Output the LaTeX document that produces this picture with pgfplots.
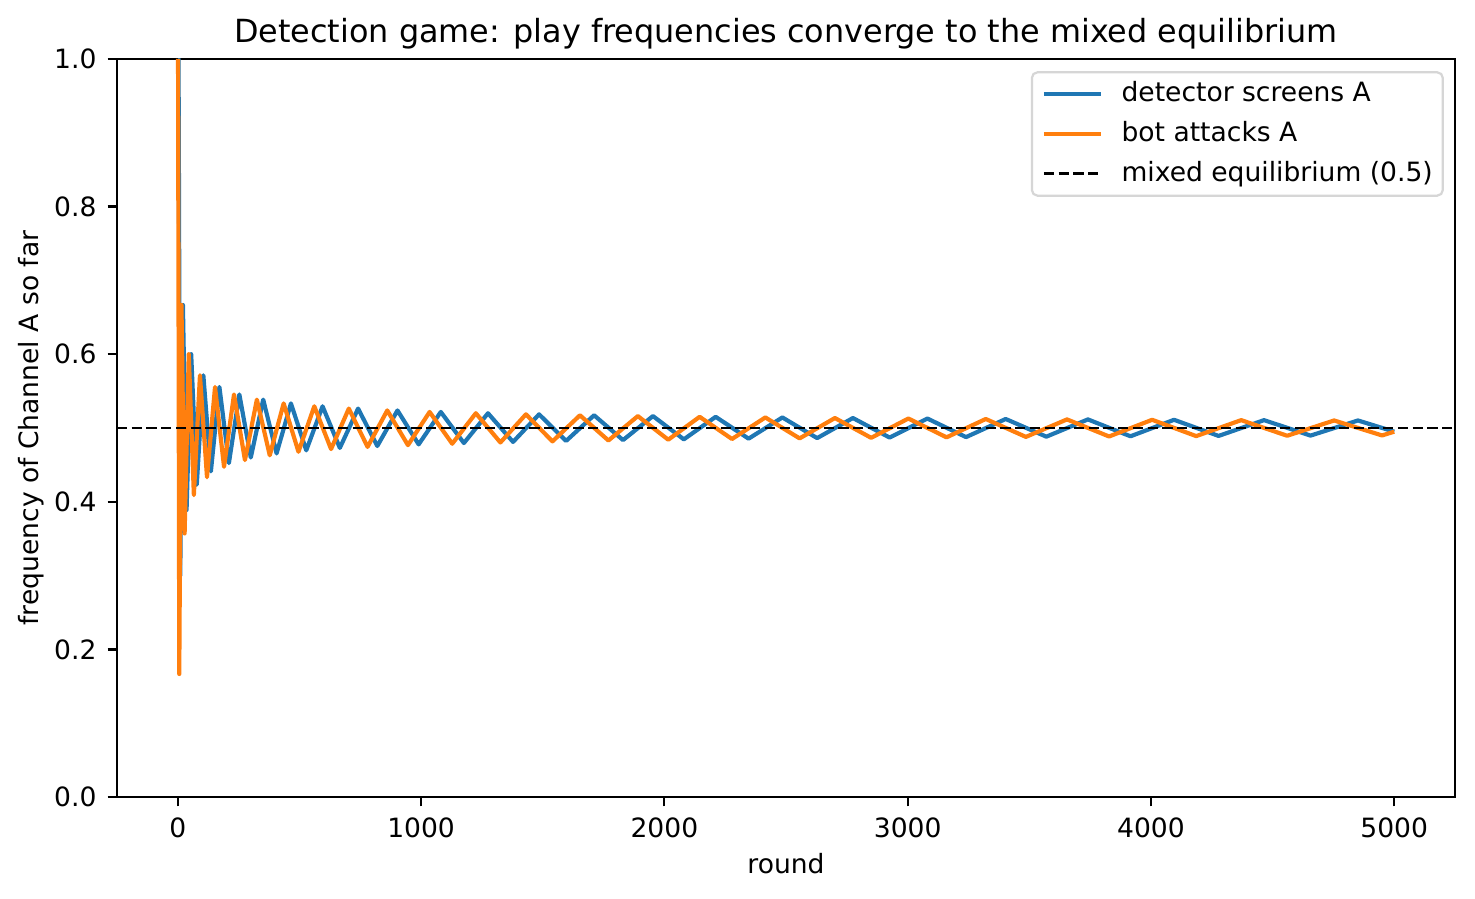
\documentclass[border=0pt]{standalone}
\usepackage{fontspec}
\setmainfont{DejaVu Sans}
\usepackage{pgfplots}
\pgfplotsset{compat=1.18}
\definecolor{mplblue}{HTML}{1F77B4}
\definecolor{mplorange}{HTML}{FF7F0E}
\definecolor{legframe}{HTML}{D6D6D6}
\newcommand{\fs}{\fontsize{9.56}{11.5}\selectfont}
\begin{document}
\begin{tikzpicture}
\begin{axis}[
  scale only axis,
  width=481.68pt, height=265.68pt,
  xmin=-249.95, xmax=5249.95,
  ymin=0, ymax=1,
  axis line style={line width=0.8pt},
  tick align=outside,
  xtick pos=bottom, ytick pos=left,
  major tick length=3.4pt,
  tick style={line width=0.8pt, black},
  xtick={0,1000,2000,3000,4000,5000},
  ytick={0,0.2,0.4,0.6,0.8,1.0},
  /pgf/number format/assume math mode=true,
  xticklabel style={/pgf/number format/1000 sep={}, font=\fs, inner sep=0pt, anchor=north, yshift=-4pt},
  yticklabel style={/pgf/number format/.cd, fixed, fixed zerofill, precision=1, /tikz/.cd, font=\fs, inner sep=0pt, anchor=east, xshift=-3.8pt},
  title={Detection game: play frequencies converge to the mixed equilibrium},
  title style={font=\fontsize{11.47}{13.8}\selectfont, at={(axis description cs:0.5,1)}, anchor=base, inner sep=0pt},
  xlabel={round},
  xlabel style={font=\fs, at={(axis description cs:0.5,-0.1030)}, anchor=base, inner sep=0pt},
  ylabel={frequency of Channel A so far},
  ylabel style={font=\fs, at={(axis description cs:-0.0583,0.5)}, anchor=base, inner sep=0pt},
  legend cell align=left,
  legend image code/.code={\draw[#1] (0pt,0pt) -- (20.4pt,0pt);},
  legend style={at={(axis description cs:1,1)}, anchor=north east, xshift=-4pt, yshift=-4.4pt,
    font=\fs, draw=legframe, line width=0.8pt, rounded corners=2pt,
    fill=white, inner xsep=3.6pt, inner ysep=3.3pt, row sep=5.1pt, column sep=6.8pt,
    nodes={inner sep=0pt, text height=7.3pt, text depth=1.9pt}},
]
\addplot[mplblue, line width=1.5pt, line join=round] coordinates {
(1,1) (3,1) (10,0.3) (21,0.66667) (36,0.38889) (55,0.6) (78,0.42308) (105,0.57143) (136,0.44118) (171,0.55556) (210,0.45238) (253,0.54545) (300,0.46) (351,0.53846) (406,0.46552) (465,0.53333) (528,0.46970) (595,0.52941) (666,0.47297) (741,0.52632) (820,0.47561) (903,0.52381) (990,0.47778) (1081,0.52174) (1176,0.47959) (1275,0.52) (1378,0.48113) (1485,0.51852) (1596,0.48246) (1711,0.51724) (1830,0.48361) (1953,0.51613) (2080,0.48462) (2211,0.51515) (2346,0.48551) (2485,0.51429) (2628,0.48630) (2775,0.51351) (2926,0.48701) (3081,0.51282) (3240,0.48765) (3403,0.51220) (3570,0.48824) (3741,0.51163) (3916,0.48876) (4095,0.51111) (4278,0.48925) (4465,0.51064) (4656,0.48969) (4851,0.51020) (5000,0.495)
};
\addlegendentry{detector screens A}
\addplot[mplorange, line width=1.5pt, line join=round] coordinates {
(1,1) (6,0.16667) (15,0.66667) (28,0.35714) (45,0.6) (66,0.40909) (91,0.57143) (120,0.43333) (153,0.55556) (190,0.44737) (231,0.54545) (276,0.45652) (325,0.53846) (378,0.46296) (435,0.53333) (496,0.46774) (561,0.52941) (630,0.47143) (703,0.52632) (780,0.47436) (861,0.52381) (946,0.47674) (1035,0.52174) (1128,0.47872) (1225,0.52) (1326,0.48039) (1431,0.51852) (1540,0.48182) (1653,0.51724) (1770,0.48305) (1891,0.51613) (2016,0.48413) (2145,0.51515) (2278,0.48507) (2415,0.51429) (2556,0.48592) (2701,0.51351) (2850,0.48667) (3003,0.51282) (3160,0.48734) (3321,0.51220) (3486,0.48795) (3655,0.51163) (3828,0.48851) (4005,0.51111) (4186,0.48901) (4371,0.51064) (4560,0.48947) (4753,0.51020) (4950,0.48990) (5000,0.495)
};
\addlegendentry{bot attacks A}
\addplot[black, line width=1pt, dash pattern=on 3.7pt off 1.6pt] coordinates {(-249.95,0.5) (5249.95,0.5)};
\addlegendentry{mixed equilibrium (0.5)}
\end{axis}
\pgfresetboundingbox
\path[use as bounding box] ([xshift=-42.12pt,yshift=-36.36pt]current axis.south west) rectangle ([xshift=7.2pt,yshift=21.24pt]current axis.north east);
\end{tikzpicture}
\end{document}
